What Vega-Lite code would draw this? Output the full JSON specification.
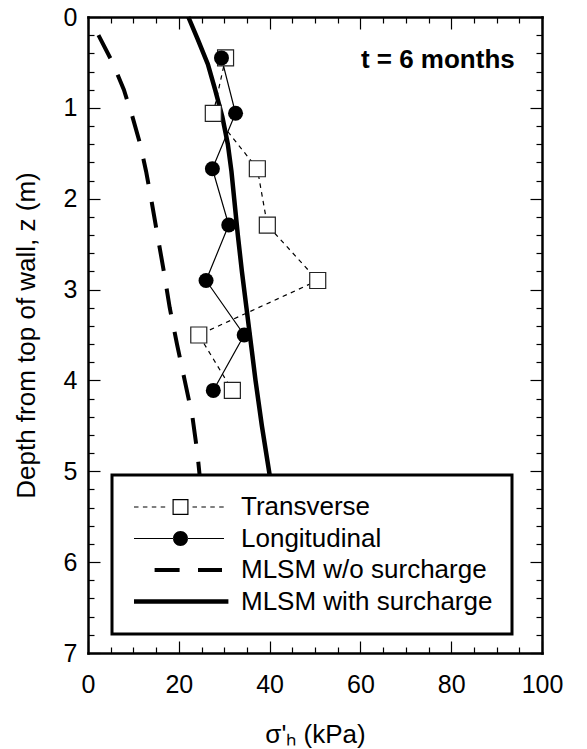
{
  "$schema": "https://vega.github.io/schema/vega-lite/v6.json",
  "width": 454,
  "height": 636,
  "autosize": "none",
  "padding": {"left": 88, "top": 17, "right": 45, "bottom": 96},
  "background": "white",
  "config": {
    "view": {"stroke": null},
    "font": "Liberation Sans",
    "axis": {
      "labelFont": "Liberation Sans",
      "labelFontSize": 25,
      "labelColor": "black",
      "titleFont": "Liberation Sans",
      "titleFontSize": 26,
      "titleFontWeight": "normal",
      "titleColor": "black",
      "domainColor": "black",
      "domainWidth": 2.5,
      "domainCap": "square",
      "tickColor": "black",
      "tickWidth": 1.2,
      "grid": false,
      "labelOverlap": false,
      "labelFlush": false,
      "labelBound": false
    },
    "legend": {"strokeWidth": 3}
  },
  "data": {
    "values": [
      {"series": "Transverse", "x": 30.3, "z": 0.45},
      {"series": "Transverse", "x": 27.6, "z": 1.06},
      {"series": "Transverse", "x": 37.3, "z": 1.67},
      {"series": "Transverse", "x": 39.5, "z": 2.29},
      {"series": "Transverse", "x": 50.6, "z": 2.9},
      {"series": "Transverse", "x": 24.4, "z": 3.5},
      {"series": "Transverse", "x": 31.8, "z": 4.11},
      {"series": "Longitudinal", "x": 29.4, "z": 0.45},
      {"series": "Longitudinal", "x": 32.5, "z": 1.06},
      {"series": "Longitudinal", "x": 27.4, "z": 1.67},
      {"series": "Longitudinal", "x": 31.0, "z": 2.29},
      {"series": "Longitudinal", "x": 26.0, "z": 2.9},
      {"series": "Longitudinal", "x": 34.4, "z": 3.5},
      {"series": "Longitudinal", "x": 27.6, "z": 4.11},
      {"series": "MLSM w/o surcharge", "x": 2.3, "z": 0.2},
      {"series": "MLSM w/o surcharge", "x": 5.4, "z": 0.5},
      {"series": "MLSM w/o surcharge", "x": 7.9, "z": 0.8},
      {"series": "MLSM w/o surcharge", "x": 9.8, "z": 1.1},
      {"series": "MLSM w/o surcharge", "x": 11.5, "z": 1.4},
      {"series": "MLSM w/o surcharge", "x": 12.8, "z": 1.7},
      {"series": "MLSM w/o surcharge", "x": 13.9, "z": 2.0},
      {"series": "MLSM w/o surcharge", "x": 15.3, "z": 2.4},
      {"series": "MLSM w/o surcharge", "x": 16.7, "z": 2.8},
      {"series": "MLSM w/o surcharge", "x": 18.0, "z": 3.2},
      {"series": "MLSM w/o surcharge", "x": 19.6, "z": 3.6},
      {"series": "MLSM w/o surcharge", "x": 21.3, "z": 4.0},
      {"series": "MLSM w/o surcharge", "x": 23.0, "z": 4.4},
      {"series": "MLSM w/o surcharge", "x": 24.1, "z": 4.8},
      {"series": "MLSM w/o surcharge", "x": 24.7, "z": 5.1},
      {"series": "MLSM with surcharge", "x": 22.1, "z": 0.0},
      {"series": "MLSM with surcharge", "x": 24.2, "z": 0.25},
      {"series": "MLSM with surcharge", "x": 26.4, "z": 0.52},
      {"series": "MLSM with surcharge", "x": 28.0, "z": 0.8},
      {"series": "MLSM with surcharge", "x": 29.6, "z": 1.1},
      {"series": "MLSM with surcharge", "x": 30.8, "z": 1.4},
      {"series": "MLSM with surcharge", "x": 31.6, "z": 1.7},
      {"series": "MLSM with surcharge", "x": 32.2, "z": 2.0},
      {"series": "MLSM with surcharge", "x": 33.0, "z": 2.4},
      {"series": "MLSM with surcharge", "x": 33.9, "z": 2.8},
      {"series": "MLSM with surcharge", "x": 34.9, "z": 3.2},
      {"series": "MLSM with surcharge", "x": 35.9, "z": 3.6},
      {"series": "MLSM with surcharge", "x": 36.9, "z": 4.0},
      {"series": "MLSM with surcharge", "x": 38.3, "z": 4.5},
      {"series": "MLSM with surcharge", "x": 40.2, "z": 5.1}
    ]
  },
  "resolve": {"axis": {"x": "independent", "y": "independent"}},
  "layer": [
    {
      "transform": [{"filter": "datum.series === 'MLSM with surcharge'"}],
      "mark": {"type": "line", "color": "black", "strokeWidth": 4.5},
      "encoding": {
        "x": {"field": "x", "type": "quantitative", "scale": {"domain": [0, 100]},
          "axis": {
            "orient": "bottom",
            "values": [0,5,10,15,20,25,30,35,40,45,50,55,60,65,70,75,80,85,90,95,100],
            "tickSize": {"condition": {"test": "datum.value % 20 === 0", "value": -12}, "value": -6},
            "labelExpr": "datum.value % 20 === 0 ? format(datum.value, 'd') : ''",
            "labelPadding": 31,
            "title": "σ'ₕ (kPa)",
            "titlePadding": 18
          }
        },
        "y": {"field": "z", "type": "quantitative", "scale": {"domain": [0, 7], "reverse": true},
          "axis": {
            "orient": "left",
            "values": [0,0.2,0.4,0.6,0.8,1,1.2,1.4,1.6,1.8,2,2.2,2.4,2.6,2.8,3,3.2,3.4,3.6,3.8,4,4.2,4.4,4.6,4.8,5,5.2,5.4,5.6,5.8,6,6.2,6.4,6.6,6.8,7],
            "tickSize": {"condition": {"test": "datum.value % 1 === 0", "value": -12}, "value": -6},
            "labelExpr": "datum.value % 1 === 0 ? format(datum.value, 'd') : ''",
            "labelPadding": 23,
            "title": "Depth from top of wall, z (m)",
            "titlePadding": 24
          }
        },
        "order": {"field": "z", "type": "quantitative"}
      }
    },
    {
      "transform": [{"filter": "datum.series === 'MLSM w/o surcharge'"}],
      "mark": {"type": "line", "color": "black", "strokeWidth": 4, "strokeDash": [26, 18]},
      "encoding": {
        "x": {"field": "x", "type": "quantitative", "scale": {"domain": [0, 100]},
          "axis": {
            "orient": "top",
            "values": [0,5,10,15,20,25,30,35,40,45,50,55,60,65,70,75,80,85,90,95,100],
            "tickSize": {"condition": {"test": "datum.value % 20 === 0", "value": -12}, "value": -6},
            "labels": false,
            "title": null
          }
        },
        "y": {"field": "z", "type": "quantitative", "scale": {"domain": [0, 7], "reverse": true},
          "axis": {
            "orient": "right",
            "values": [0,0.2,0.4,0.6,0.8,1,1.2,1.4,1.6,1.8,2,2.2,2.4,2.6,2.8,3,3.2,3.4,3.6,3.8,4,4.2,4.4,4.6,4.8,5,5.2,5.4,5.6,5.8,6,6.2,6.4,6.6,6.8,7],
            "tickSize": {"condition": {"test": "datum.value % 1 === 0", "value": -12}, "value": -6},
            "labels": false,
            "title": null
          }
        },
        "order": {"field": "z", "type": "quantitative"}
      }
    },
    {
      "transform": [{"filter": "datum.series === 'Transverse'"}],
      "mark": {"type": "line", "color": "black", "strokeWidth": 1.2, "strokeDash": [4.5, 4.4]},
      "encoding": {
        "x": {"field": "x", "type": "quantitative", "scale": {"domain": [0, 100]}, "axis": null},
        "y": {"field": "z", "type": "quantitative", "scale": {"domain": [0, 7], "reverse": true}, "axis": null},
        "order": {"field": "z", "type": "quantitative"}
      }
    },
    {
      "transform": [{"filter": "datum.series === 'Longitudinal'"}],
      "mark": {"type": "line", "color": "black", "strokeWidth": 1.2},
      "encoding": {
        "x": {"field": "x", "type": "quantitative", "scale": {"domain": [0, 100]}, "axis": null},
        "y": {"field": "z", "type": "quantitative", "scale": {"domain": [0, 7], "reverse": true}, "axis": null},
        "order": {"field": "z", "type": "quantitative"}
      }
    },
    {
      "transform": [{"filter": "datum.series === 'Transverse'"}],
      "mark": {"type": "point", "shape": "square", "size": 256, "filled": true, "fill": "white", "stroke": "#222", "strokeWidth": 1.2, "opacity": 1},
      "encoding": {
        "x": {"field": "x", "type": "quantitative", "scale": {"domain": [0, 100]}, "axis": null},
        "y": {"field": "z", "type": "quantitative", "scale": {"domain": [0, 7], "reverse": true}, "axis": null}
      }
    },
    {
      "transform": [{"filter": "datum.series === 'Longitudinal'"}],
      "mark": {"type": "point", "shape": "circle", "size": 225, "filled": true, "color": "black", "opacity": 1},
      "encoding": {
        "x": {"field": "x", "type": "quantitative", "scale": {"domain": [0, 100]}, "axis": null},
        "y": {"field": "z", "type": "quantitative", "scale": {"domain": [0, 7], "reverse": true}, "axis": null}
      }
    },
    {
      "mark": {"type": "point", "filled": true, "color": "black", "opacity": 0, "size": 400},
      "encoding": {
        "x": {"field": "x", "type": "quantitative", "scale": {"domain": [0, 100]}, "axis": null},
        "y": {"field": "z", "type": "quantitative", "scale": {"domain": [0, 7], "reverse": true}, "axis": null},
        "shape": {
          "field": "series",
          "type": "nominal",
          "scale": {
            "domain": ["Transverse", "Longitudinal", "MLSM w/o surcharge", "MLSM with surcharge"],
            "range": [
              "M-1,-0.06H-0.55V0.06H-1Z M-0.11,-0.06H0.34V0.06H-0.11Z M0.78,-0.06H1.23V0.06H0.78Z M1.67,-0.06H2.12V0.06H1.67Z M4.85,-0.06H5.3V0.06H4.85Z M5.74,-0.06H6.19V0.06H5.74Z M6.63,-0.06H7.08V0.06H6.63Z M7.52,-0.06H7.97V0.06H7.52Z M2.85,-0.8H4.45V0.8H2.85Z M2.97,-0.68V0.68H4.33V-0.68Z",
              "M-1,-0.06H2.92V0.06H-1Z M4.38,-0.06H8V0.06H4.38Z M2.9,0A0.75 0.75 0 1 0 4.4 0A0.75 0.75 0 1 0 2.9 0Z",
              "M1.06,-0.2H3.56V0.2H1.06Z M5.4,-0.2H7.8V0.2H5.4Z",
              "M-1,-0.22H8.44V0.22H-1Z"
            ]
          },
          "legend": {
            "title": null,
            "orient": "none",
            "legendX": 24,
            "legendY": 458,
            "padding": 19,
            "strokeColor": "black",
            "fillColor": "white",
            "labelFont": "Liberation Sans",
            "labelFontSize": 26,
            "labelColor": "black",
            "labelLimit": 400,
            "labelOffset": 84,
            "symbolSize": 400,
            "symbolFillColor": "black",
            "symbolStrokeWidth": 0,
            "symbolOpacity": 1,
            "symbolOffset": 0,
            "rowPadding": 5.5
          }
        }
      }
    },
    {
      "data": {"values": [{"note": "t = 6 months", "x": 94, "z": 0.47}]},
      "mark": {"type": "text", "align": "right", "baseline": "middle", "font": "Liberation Sans", "fontSize": 26, "fontWeight": "bold", "color": "black"},
      "encoding": {
        "x": {"field": "x", "type": "quantitative", "scale": {"domain": [0, 100]}, "axis": null},
        "y": {"field": "z", "type": "quantitative", "scale": {"domain": [0, 7], "reverse": true}, "axis": null},
        "text": {"field": "note"}
      }
    }
  ]
}
